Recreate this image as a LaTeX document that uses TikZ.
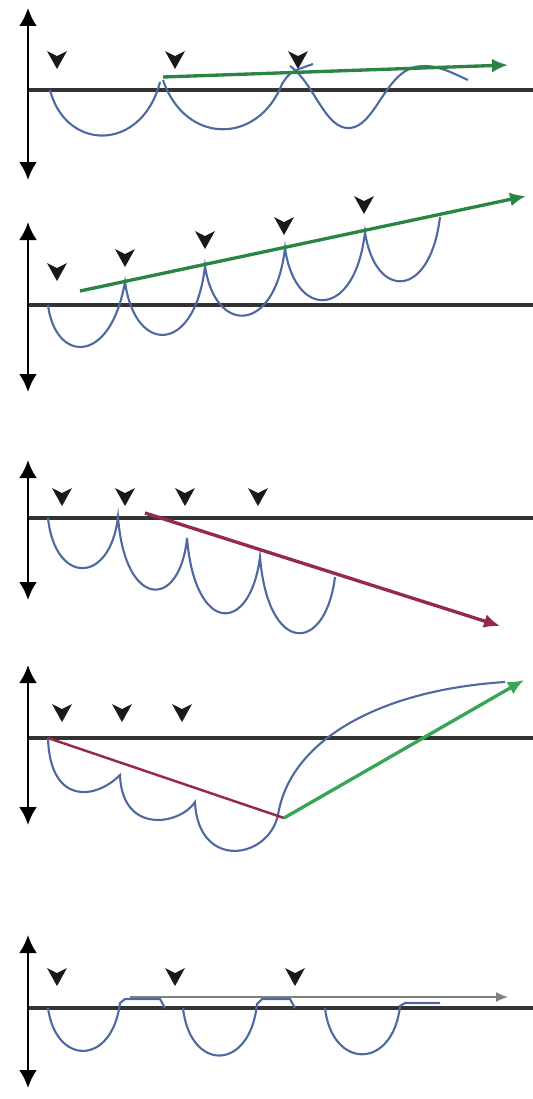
\documentclass[tikz,border=0pt]{standalone}
\usepackage{xcolor}
\usepackage{tikz}
\usetikzlibrary{calc}
\usetikzlibrary{arrows}
\usetikzlibrary{arrows.meta}
\definecolor{hopblue}{RGB}{78,104,160}
\definecolor{vecgreen}{RGB}{55,165,85}
\definecolor{vecred}{RGB}{150,40,75}
\tikzset{vaxis/.style={black, line width=1.5pt, {Latex[length=3.6mm,width=3.6mm]}-{Latex[length=3.6mm,width=3.6mm]}}}
\tikzset{haxis/.style={black!80, line width=2.2pt}}
\tikzset{hop/.style={hopblue, line width=1.2pt}}
\tikzset{shiftvec/.style={line width=1.9pt, -{Latex[length=3.2mm,width=2.8mm]}}}

\begin{document}
\begin{tikzpicture}[x=.02cm,y=-.02cm]
\useasboundingbox (0,0) rectangle (533,1099);
% axes of the five rows
\foreach \top/\mid/\bot in {8/90/180, 222/305/392, 460/518/600, 665/738/825, 935/1008/1088} {
 \draw[haxis] (28,\mid) -- (533,\mid);
 \draw[vaxis] (28,\top) -- (28,\bot);
}
\foreach \x/\y in {57/60,175/60,298/60, 57/272,125/258,205/240,284/226,364/205, 62/497,125/497,185/497,258/497, 62/713,122/713,182/713, 57/977,175/977,295/977} {
 \fill[black!90] (\x,\y) +(-10,-9) -- +(0,-4) -- +(10,-9) -- +(0,9) -- cycle;
}

% row 1
\coordinate (a1) at (163,77);
\coordinate (b1) at (508,65);
\draw[hop] (50,90) .. controls (66,152) and (142,152) .. (160,82);
\draw[hop] (163,80) .. controls (185,145) and (258,145) .. (282,84) .. controls (290,72) .. (313,64);
\draw[hop] (290,66) .. controls (315,84) and (325,130) .. (350,128) .. controls (375,126) and (385,74) .. (415,67) .. controls (435,63) and (450,72) .. (468,80);
\draw[shiftvec, vecgreen!80!black] (a1) -- (b1);

% row 2
\coordinate (a2) at (80,291);
\coordinate (b2) at (526,196);
\draw[hop] (48,305) .. controls (55,362) and (110,367) .. (125,282)
 .. controls (135,355) and (195,355) .. (205,266)
 .. controls (215,335) and (275,335) .. (285,248)
 .. controls (295,320) and (355,320) .. (365,232)
 .. controls (375,300) and (430,300) .. (440,217);
\draw[shiftvec, vecgreen!80!black] (a2) -- (b2);

% row 3
\coordinate (a3) at (145,513);
\coordinate (b3) at (500,626);
\draw[hop] (48,518) .. controls (55,585) and (110,585) .. (118,517)
 .. controls (125,610) and (180,610) .. (187,538)
 .. controls (195,635) and (250,635) .. (260,557)
 .. controls (268,655) and (325,655) .. (335,577);
\draw[shiftvec, vecred] (a3) -- (b3);

% row 4
\coordinate (a4) at (48,738);
\coordinate (m4) at (284,818);
\coordinate (b4) at (524,680);
\draw[hop] (a4) .. controls (50,805) and (95,800) .. (120,775)
 .. controls (122,835) and (180,825) .. (195,802)
 .. controls (198,870) and (268,860) .. (278,815)
 .. controls (290,740) and (380,690) .. (505,682);
\draw[line width=1.4pt, vecred] (a4) -- (m4);
\draw[shiftvec, vecgreen] (m4) -- (b4);

% row 5
\coordinate (a5) at (130,997);
\coordinate (b5) at (508,997);
\draw[gray, line width=.8pt, -{Latex[length=2.4mm,width=2mm]}] (a5) -- (b5);
\draw[hop] (48,1008) .. controls (56,1066) and (112,1066) .. (120,1003) -- (125,999) -- (160,999) -- (165,1008);
\draw[hop] (183,1008) .. controls (190,1072) and (250,1072) .. (257,1004) -- (262,999) -- (290,999) -- (295,1008);
\draw[hop] (325,1008) .. controls (332,1070) and (393,1070) .. (400,1006) -- (405,1003) -- (440,1003);
\end{tikzpicture}
\end{document}
